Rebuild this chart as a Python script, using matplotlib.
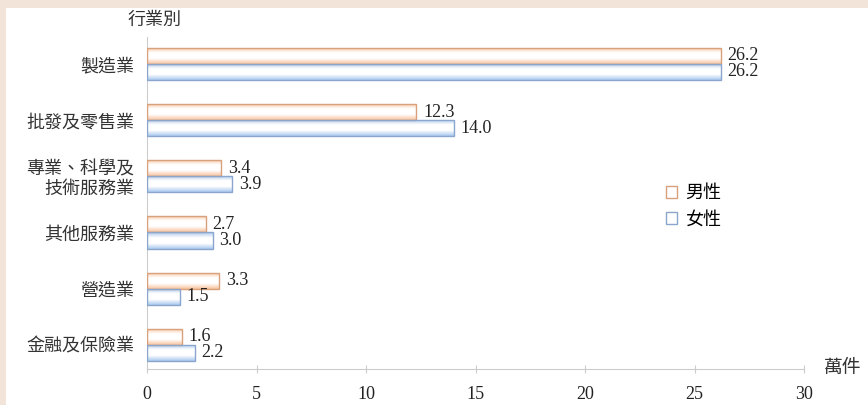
import numpy as np
import matplotlib.pyplot as plt
from matplotlib.colors import LinearSegmentedColormap
from matplotlib.patches import Rectangle

plt.rcParams['font.family'] = ['Noto Sans CJK TC', 'DejaVu Sans']

# 資料
categorias = ["製造業", "批發及零售業", "專業、科學及\n技術服務業", "其他服務業", "營造業", "金融及保險業"]
hombres = [26.2, 12.3, 3.4, 2.7, 3.3, 1.6]
mujeres = [26.2, 14.0, 3.9, 3.0, 1.5, 2.2]
ticks_x = [0, 5, 10, 15, 20, 25, 30]

fig = plt.figure(figsize=(8.68, 4.05), dpi=100, facecolor="#f2e4d8")
fig.patches.append(Rectangle((6 / 868, 0), 1, 1 - 8 / 405, transform=fig.transFigure,
                             facecolor="white", edgecolor="none", zorder=-10))
ax = fig.add_axes([147 / 868, 36 / 405, 657 / 868, 332 / 405])
ax.set_facecolor("none")

n = len(categorias)
y = np.arange(n)
alto = 0.285

def degradado(color):
    return LinearSegmentedColormap.from_list("g", [color, "white", "white", color])

grad = np.linspace(0, 1, 64).reshape(-1, 1)

def barras(valores, offset, color, borde, etiqueta):
    bs = ax.barh(y + offset, valores, height=alto, facecolor="none", edgecolor=borde,
                 linewidth=1.0, label=etiqueta, zorder=3)
    for b in bs:
        x0, y0 = b.get_x(), b.get_y()
        w, h = b.get_width(), b.get_height()
        im = ax.imshow(grad, cmap=degradado(color), aspect="auto",
                       extent=[x0, x0 + w, y0 + h, y0], zorder=2, interpolation="bilinear")
        im.set_clip_path(b)
    for v, yy in zip(valores, y + offset):
        ax.text(v + 0.3, yy, f"{v:.1f}", va="center", ha="left", fontsize=13,
                family="Liberation Serif", color="#222222")
    return bs

barras(hombres, -alto / 2, "#f8c29c", "#d9a07c", "男性")
barras(mujeres, alto / 2, "#a9c8ef", "#8aa6cc", "女性")

ax.set_ylim(5.43, -0.48)
ax.set_xlim(0, 30)
ax.set_yticks(y)
ax.set_yticklabels(categorias, fontsize=13, color="#333333", linespacing=1.15)
ax.set_xticks(ticks_x)
ax.set_xticklabels([str(t) for t in ticks_x], family="Liberation Serif", fontsize=13, color="#222222")
ax.tick_params(axis="y", length=0, pad=9)
ax.tick_params(axis="x", direction="inout", length=6, color="#cccccc", pad=9)
for s in ["top", "right"]:
    ax.spines[s].set_visible(False)
for s in ["left", "bottom"]:
    ax.spines[s].set_color("#cccccc")

fig.text(155 / 868, 1 - 20 / 405, "行業別", ha="center", va="center", fontsize=13, color="#333333")
fig.text(843 / 868, 1 - 368 / 405, "萬件", ha="center", va="center", fontsize=13.5, color="#333333")

ax.legend(loc="upper left", bbox_to_anchor=(0.765, 0.605), frameon=False, fontsize=13,
          handlelength=0.6, handleheight=0.6, handletextpad=0.5, labelspacing=0.45)

plt.savefig("out.png", dpi=100, facecolor=fig.get_facecolor())
